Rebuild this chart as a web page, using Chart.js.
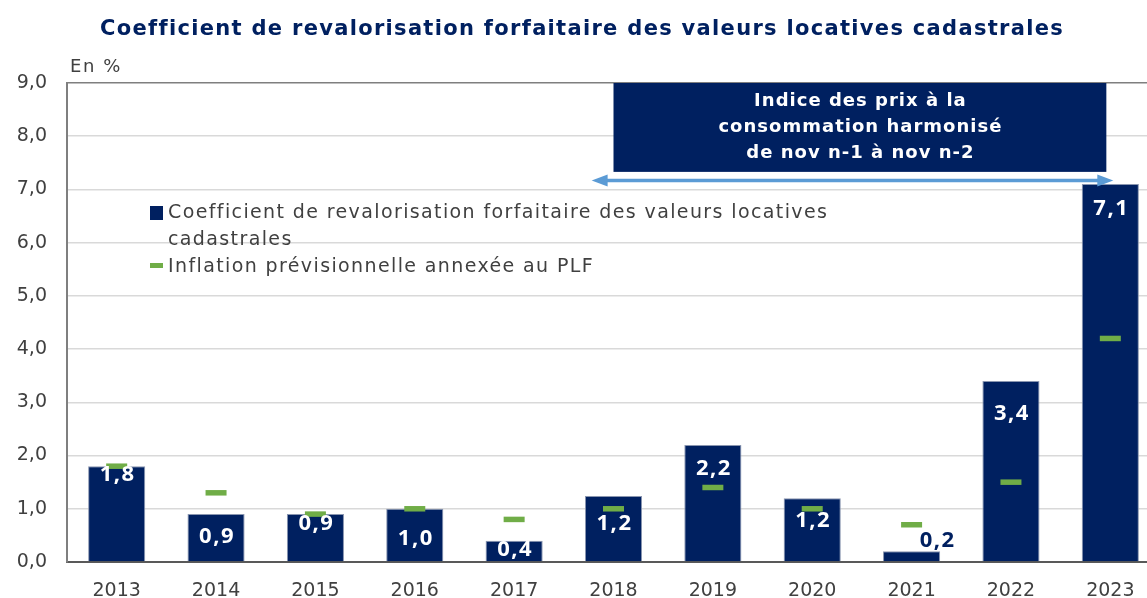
<!DOCTYPE html>
<html>
<head>
<meta charset="utf-8">
<script src="https://cdn.jsdelivr.net/npm/chart.js@4/dist/chart.umd.min.js"></script>
<style>
  html, body { margin: 0; padding: 0; background: #fff; overflow: hidden; }
  #wrap { width: 1160px; height: 598px; }
</style>
</head>
<body>
<div id="wrap"><canvas id="coefChart" width="1160" height="598"></canvas></div>
<script>
// Data
const years = ['2013', '2014', '2015', '2016', '2017', '2018', '2019', '2020', '2021', '2022', '2023'];
const coefValues = [1.8, 0.9, 0.9, 1.0, 0.4, 1.24, 2.2, 1.2, 0.2, 3.4, 7.1];
const inflationValues = [1.8, 1.3, 0.9, 1.0, 0.8, 1.0, 1.4, 1.0, 0.7, 1.5, 4.2];
const yTicks = [0, 1, 2, 3, 4, 5, 6, 7, 8, 9];

const NAVY = '#002060';
const GREEN = '#70AD47';
const TEXT = '#404040';
const FONT = "'DejaVu Sans', sans-serif";
const LABEL_FONT = "'Open Sans', sans-serif";

// vertical offset (px) of each bar label from the top of its bar
const labelDy = [9, 23, 10, 30, 9, 28, 24, 23, -11, 33, 25];

const fmt = v => v.toFixed(1).replace('.', ',');

// letter spacing so that a text gets the wanted width
function spacingFor(ctx, text, width) {
    ctx.letterSpacing = '0px';
    return (width - ctx.measureText(text).width) / text.length;
}

const decorPlugin = {
    id: 'decor',
    afterDatasetsDraw(chart) {
        const ctx = chart.ctx;
        const meta = chart.getDatasetMeta(0);
        ctx.save();
        ctx.font = "bold 22px " + LABEL_FONT;
        ctx.letterSpacing = '1.5px';
        ctx.textAlign = 'center';
        ctx.textBaseline = 'middle';
        meta.data.forEach((bar, i) => {
            const inside = labelDy[i] > 0;
            ctx.fillStyle = inside ? '#ffffff' : NAVY;
            const x = inside ? bar.x : bar.x + 25;
            ctx.fillText(fmt(coefValues[i]), x + 1, bar.y + labelDy[i]);
        });
        ctx.restore();
    },
    afterDraw(chart) {
        const ctx = chart.ctx;
        const xs = chart.scales.x;
        const ys = chart.scales.y;
        ctx.save();
        ctx.textBaseline = 'middle';

        // title
        const title = 'Coefficient de revalorisation forfaitaire des valeurs locatives cadastrales';
        ctx.fillStyle = NAVY;
        ctx.font = "bold 21px " + FONT;
        ctx.textAlign = 'left';
        ctx.letterSpacing = spacingFor(ctx, title, 962) + 'px';
        ctx.fillText(title, 100, 30);

        // unit
        ctx.fillStyle = TEXT;
        ctx.font = "18px " + FONT;
        ctx.letterSpacing = spacingFor(ctx, 'En %', 52) + 'px';
        ctx.fillText('En %', 70, 67);

        // annotation box
        const bx1 = xs.getPixelForValue(5);
        const bx2 = xs.getPixelForValue(9.96);
        const by1 = ys.getPixelForValue(9);
        const by2 = ys.getPixelForValue(7.33);
        ctx.fillStyle = NAVY;
        ctx.fillRect(bx1, by1, bx2 - bx1, by2 - by1);
        ctx.fillStyle = '#ffffff';
        ctx.font = "bold 18px " + FONT;
        ctx.textAlign = 'center';
        const boxLines = ['Indice des prix à la', 'consommation harmonisé', 'de nov n-1 à nov n-2'];
        const boxLs = spacingFor(ctx, boxLines[1], 284);
        ctx.letterSpacing = boxLs + 'px';
        const cx = (bx1 + bx2) / 2 + boxLs / 2;
        boxLines.forEach((t, i) => {
            ctx.fillText(t, cx, by1 + 18 + i * 26);
        });

        // double arrow
        const ax1 = xs.getPixelForValue(4.78);
        const ax2 = xs.getPixelForValue(10.03);
        const ay = ys.getPixelForValue(7.17);
        ctx.strokeStyle = '#5B9BD5';
        ctx.fillStyle = '#5B9BD5';
        ctx.lineWidth = 3.5;
        ctx.beginPath();
        ctx.moveTo(ax1 + 10, ay);
        ctx.lineTo(ax2 - 10, ay);
        ctx.stroke();
        [[ax1, 1], [ax2, -1]].forEach(([px, dir]) => {
            ctx.beginPath();
            ctx.moveTo(px, ay);
            ctx.lineTo(px + dir * 16, ay - 6);
            ctx.lineTo(px + dir * 16, ay + 6);
            ctx.closePath();
            ctx.fill();
        });

        // legend
        const leg1 = 'Coefficient de revalorisation forfaitaire des valeurs locatives';
        ctx.font = "19px " + FONT;
        ctx.textAlign = 'left';
        ctx.letterSpacing = spacingFor(ctx, leg1, 660) + 'px';
        ctx.fillStyle = NAVY;
        ctx.fillRect(150, 206, 13, 14);
        ctx.fillStyle = TEXT;
        ctx.fillText(leg1, 168, 213);
        ctx.fillText('cadastrales', 168, 240);
        ctx.fillStyle = GREEN;
        ctx.fillRect(150, 263, 13, 5);
        ctx.fillStyle = TEXT;
        ctx.fillText('Inflation prévisionnelle annexée au PLF', 168, 267);

        ctx.restore();
    }
};

const ctx = document.getElementById('coefChart').getContext('2d');
new Chart(ctx, {
    type: 'bar',
    data: {
        labels: years,
        datasets: [{
            type: 'bar',
            label: 'Coefficient de revalorisation forfaitaire des valeurs locatives cadastrales',
            data: coefValues,
            backgroundColor: NAVY,
            borderColor: '#8a96b0',
            borderWidth: 1,
            barPercentage: 0.575,
            categoryPercentage: 1,
            order: 2
        }, {
            type: 'line',
            label: 'Inflation prévisionnelle annexée au PLF',
            data: inflationValues,
            showLine: false,
            pointStyle: 'line',
            pointRadius: 10.5,
            pointHoverRadius: 10.5,
            pointBorderWidth: 5.5,
            pointBorderColor: GREEN,
            borderColor: GREEN,
            order: 1
        }]
    },
    options: {
        responsive: false,
        animation: false,
        layout: { autoPadding: false, padding: { top: 83, right: 0, left: 0, bottom: 0 } },
        plugins: {
            legend: { display: false },
            title: { display: false },
            tooltip: { enabled: false }
        },
        scales: {
            x: {
                grid: { display: false, drawTicks: false },
                border: { color: '#595959', width: 2 },
                ticks: { color: TEXT, font: { family: FONT, size: 19 }, padding: 18 },
                afterFit: s => { s.height = 36; }
            },
            y: {
                min: 0,
                max: 9,
                afterBuildTicks: s => { s.ticks = yTicks.map(v => ({ value: v })); },
                grid: {
                    drawTicks: false,
                    lineWidth: 1.5,
                    color: c => c.tick && c.tick.value === 9 ? '#7f7f7f' : '#d9d9d9'
                },
                border: { color: '#7f7f7f', width: 2 },
                ticks: {
                    color: TEXT,
                    font: { family: FONT, size: 19 },
                    padding: 20,
                    callback: v => fmt(v)
                },
                afterFit: s => { s.width = 67; }
            }
        }
    },
    plugins: [decorPlugin]
});
</script>
</body>
</html>
